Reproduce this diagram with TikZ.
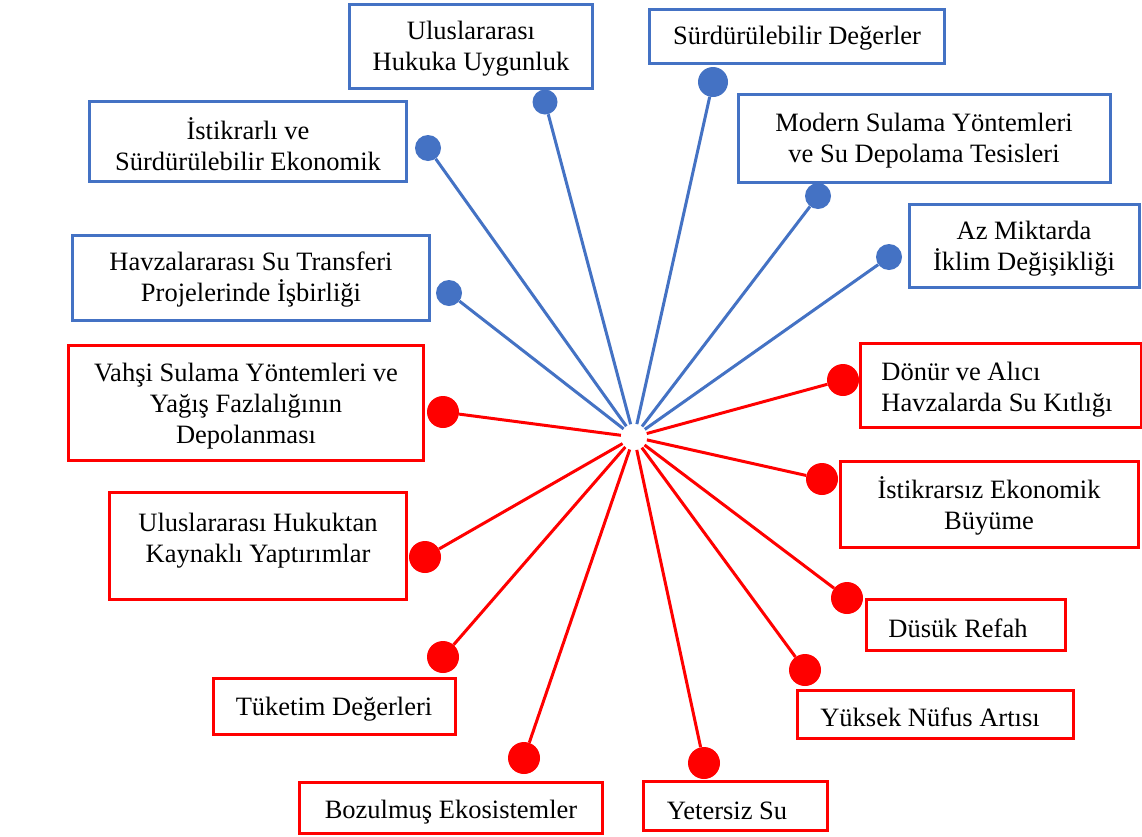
\documentclass[tikz,border=0pt]{standalone}
\usepackage{fontspec}
\setmainfont{Liberation Serif}
\definecolor{bl}{HTML}{4472C4}
\definecolor{rd}{HTML}{FF0000}
\begin{document}
\begin{tikzpicture}[x=1pt,y=-1pt,
  bbox/.style={draw=bl,line width=3pt,fill=white,inner sep=0pt},
  rbox/.style={draw=rd,line width=3pt,fill=white,inner sep=0pt},
  txt/.style={inner sep=0pt,align=center,font=\fontsize{26.5}{31}\selectfont},
  bdot/.style={circle,fill=bl,inner sep=0pt,minimum size=#1},
  rdot/.style={circle,fill=rd,inner sep=0pt,minimum size=#1},
  bline/.style={draw=bl,line width=3pt},
  rline/.style={draw=rd,line width=3pt}]
\useasboundingbox (0,0) rectangle (1142,836);
\fill[white] (0,0) rectangle (1142,836);
% boxes
\node[bbox,minimum width=243,minimum height=84] (b1) at (471,46) {};
\node[bbox,minimum width=295,minimum height=54] (b2) at (797,36) {};
\node[bbox,minimum width=372,minimum height=88] (b3) at (924,138) {};
\node[bbox,minimum width=230,minimum height=83] (b4) at (1024,246) {};
\node[bbox,minimum width=317,minimum height=80] (b5) at (248,141) {};
\node[bbox,minimum width=357,minimum height=85] (b6) at (251,278) {};
\node[rbox,minimum width=355,minimum height=115] (r1) at (246,403) {};
\node[rbox,minimum width=281,minimum height=84] (r2) at (1001,385) {};
\node[rbox,minimum width=298,minimum height=86] (r3) at (989,504) {};
\node[rbox,minimum width=297,minimum height=107] (r4) at (258,546) {};
\node[rbox,minimum width=199,minimum height=51] (r5) at (966,625) {};
\node[rbox,minimum width=242,minimum height=56] (r6) at (334,706) {};
\node[rbox,minimum width=276,minimum height=48] (r7) at (935,714) {};
\node[rbox,minimum width=303,minimum height=51] (r8) at (451,808) {};
\node[rbox,minimum width=184,minimum height=49] (r9) at (735,806) {};
% texts
\node[txt] (t1) at ([yshift=-3pt]b1.center) {Uluslararası\\Hukuka Uygunluk};
\node[txt] (t2) at ([yshift=-2pt]b2.center) {Sürdürülebilir Değerler};
\node[txt] (t3) at ([yshift=-3pt]b3.center) {Modern Sulama Yöntemleri\\ve Su Depolama Tesisleri};
\node[txt] (t4) at ([yshift=-3pt]b4.center) {Az Miktarda\\İklim Değişikliği};
\node[txt] (t5) at ([yshift=-3pt]b5.center) {İstikrarlı ve\\Sürdürülebilir Ekonomik};
\node[txt] (t6) at ([yshift=-2pt]b6.center) {Havzalararası Su Transferi\\Projelerinde İşbirliği};
\node[txt] (t7) at ([yshift=-3pt]r1.center) {Vahşi Sulama Yöntemleri ve\\Yağış Fazlalığının\\Depolanması};
\node[txt,align=left] (t8) at ([xshift=-4pt,yshift=-5pt]r2.center) {Dönür ve Alıcı\\Havzalarda Su Kıtlığı};
\node[txt] (t9) at ([yshift=-2pt]r3.center) {İstikrarsız Ekonomik\\Büyüme};
\node[txt] (t10) at ([yshift=5pt]r4.center) {Uluslararası Hukuktan\\Kaynaklı Yaptırımlar};
\node[txt] (t11) at ([xshift=-8pt,yshift=-3pt]r5.center) {Düsük Refah};
\node[txt] (t12) at ([yshift=-3pt]r6.center) {Tüketim Değerleri};
\node[txt] (t13) at ([xshift=-5pt,yshift=-3pt]r7.center) {Yüksek Nüfus Artısı};
\node[txt] (t14) at ([yshift=-4pt]r8.center) {Bozulmuş Ekosistemler};
\node[txt] (t15) at ([xshift=-8pt,yshift=-5pt]r9.center) {Yetersiz Su};
% center
\node[circle,fill=white,inner sep=0pt,minimum size=26] (c) at (634,437) {};
% dots
\node[bdot=25] (d1) at (545,102) {};
\node[bdot=30] (d2) at (713,82) {};
\node[bdot=26] (d3) at (818,196) {};
\node[bdot=26] (d4) at (889,257) {};
\node[bdot=26] (d5) at (428,148) {};
\node[bdot=26] (d6) at (449,293) {};
\node[rdot=32] (e1) at (443,412) {};
\node[rdot=32] (e2) at (843,380) {};
\node[rdot=32] (e3) at (822,479) {};
\node[rdot=32] (e4) at (425,557) {};
\node[rdot=32] (e5) at (847,598) {};
\node[rdot=32] (e6) at (443,657) {};
\node[rdot=32] (e7) at (805,670) {};
\node[rdot=32] (e8) at (524,758) {};
\node[rdot=32] (e9) at (704,763) {};
% connectors
\foreach \d in {d1,d2,d3,d4,d5,d6} \draw[bline] (c) -- (\d);
\foreach \d in {e1,e2,e3,e4,e5,e6,e7,e8,e9} \draw[rline] (c) -- (\d);
\end{tikzpicture}
\end{document}
